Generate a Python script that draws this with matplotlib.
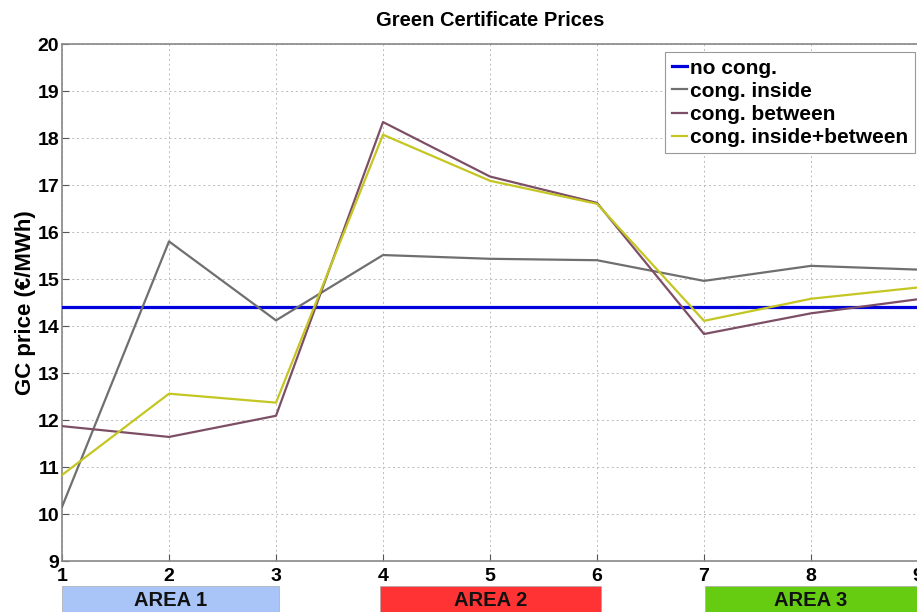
import matplotlib
matplotlib.use("Agg")
import matplotlib.pyplot as plt
from matplotlib.patches import Rectangle
import matplotlib.transforms as mtransforms

plt.rcParams['font.family'] = ['Liberation Sans', 'DejaVu Sans']

# Nodes along the network
nodes = [1, 2, 3, 4, 5, 6, 7, 8, 9]

# Green certificate prices (EUR/MWh) per scenario
no_cong = [14.40] * 9
cong_inside = [10.15, 15.80, 14.12, 15.51, 15.43, 15.40, 14.96, 15.28, 15.20]
cong_between = [11.87, 11.64, 12.09, 18.34, 17.18, 16.62, 13.83, 14.27, 14.57]
cong_inside_between = [10.83, 12.56, 12.37, 18.07, 17.09, 16.60, 14.11, 14.58, 14.82]

series_labels = ["no cong.", "cong. inside", "cong. between", "cong. inside+between"]

# Market areas: (label, first node, last node)
area_labels = ["AREA 1", "AREA 2", "AREA 3"]
area_spans = [(1.0, 3.03), (3.97, 6.04), (7.01, 9.3)]
area_colors = ["#a9c5f7", "#ff3333", "#66cc11"]

fig = plt.figure(figsize=(9.17, 6.12), dpi=100)
ax = fig.add_axes([0.0676, 0.0833, 0.9335, 0.8448])

ax.plot(nodes, no_cong, color="#0000dd", lw=2.3, label=series_labels[0], zorder=3)
ax.plot(nodes, cong_inside, color="#6f6f6f", lw=1.6, label=series_labels[1], zorder=3)
ax.plot(nodes, cong_between, color="#7d4f66", lw=1.6, label=series_labels[2], zorder=3)
ax.plot(nodes, cong_inside_between, color="#c4c622", lw=1.6, label=series_labels[3], zorder=4)

ax.set_xlim(1, 9)
ax.set_ylim(9, 20)
ax.set_xticks(nodes)
ax.set_yticks(range(9, 21))
ax.grid(True, color="#bbbbbb", linestyle=(0, (2, 3)), linewidth=0.7)
ax.tick_params(direction="in", length=5, color="#555555", labelsize=14)
ax.tick_params(axis="x", pad=5)
ax.tick_params(axis="y", pad=2)
for lab in ax.get_xticklabels() + ax.get_yticklabels():
    lab.set_fontweight("bold")
for s in ax.spines.values():
    s.set_color("#888888")
    s.set_linewidth(1.2)

ax.set_title("Green Certificate Prices", fontsize=14.5, fontweight="bold", pad=13)
ax.set_ylabel("GC price (\u20ac/MWh)", fontsize=16, fontweight="bold", labelpad=1)

leg = ax.legend(loc="upper right", bbox_to_anchor=(1.001, 0.992),
                prop={"weight": "bold", "size": 15}, handlelength=0.75,
                handletextpad=0.15, borderpad=0.3, labelspacing=0.2,
                fancybox=False, framealpha=1, edgecolor="#999999",
                borderaxespad=0.2)
leg.get_frame().set_linewidth(0.8)

# Area bands below the x axis
trans = mtransforms.blended_transform_factory(ax.transData, fig.transFigure)
for lab, (x0, x1), col in zip(area_labels, area_spans, area_colors):
    rect = Rectangle((x0, 0.0), x1 - x0, 1 - 586 / 612, transform=trans,
                     facecolor=col, edgecolor="#aaaaaa", linewidth=0.5,
                     clip_on=False)
    fig.add_artist(rect)
    xc = (x0 + x1) / 2 if x1 <= 9 else 8.0
    fig.text(xc, 1 - 601 / 612, lab, transform=trans, ha="center", va="center",
             fontsize=14.5, fontweight="bold", color="#111111")

fig.savefig("out.png", dpi=100)
